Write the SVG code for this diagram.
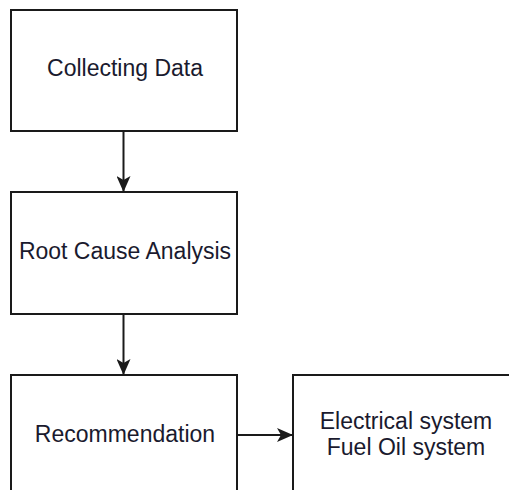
<svg xmlns="http://www.w3.org/2000/svg" width="509" height="490" viewBox="0 0 509 490">
<defs>
<style>
.box{fill:#fff;stroke:#1a1a1a;stroke-width:2}
.lbl{font-family:"Liberation Sans",Arial,sans-serif;font-size:23px;fill:#1a1a2e;text-anchor:middle}
.edge{fill:none;stroke:#1a1a1a;stroke-width:2}
</style>
<marker id="ah" viewBox="0 0 16 14" refX="15" refY="7" markerWidth="16" markerHeight="14" markerUnits="userSpaceOnUse" orient="auto">
<path d="M0,0 L16,7 L0,14 L4,7 Z" fill="#1a1a1a"/>
</marker>
</defs>
<rect width="509" height="490" fill="#fff"/>
<g id="collecting-data">
<rect class="box" x="11" y="10" width="226" height="121"/>
<text class="lbl" x="125" y="76">Collecting Data</text>
</g>
<g id="root-cause-analysis">
<rect class="box" x="11" y="192" width="226" height="122"/>
<text class="lbl" x="125" y="259">Root Cause Analysis</text>
</g>
<g id="recommendation">
<rect class="box" x="11" y="375" width="226" height="130"/>
<text class="lbl" x="125" y="442">Recommendation</text>
</g>
<g id="systems">
<rect class="box" x="293" y="375" width="230" height="130"/>
<text class="lbl" x="406" y="429">Electrical system</text>
<text class="lbl" x="406" y="455">Fuel Oil system</text>
</g>
<g id="connectors">
<line class="edge" x1="123.5" y1="131" x2="123.5" y2="191" marker-end="url(#ah)"/>
<line class="edge" x1="123.5" y1="314" x2="123.5" y2="374" marker-end="url(#ah)"/>
<line class="edge" x1="237" y1="435" x2="292" y2="435" marker-end="url(#ah)"/>
</g>
</svg>
